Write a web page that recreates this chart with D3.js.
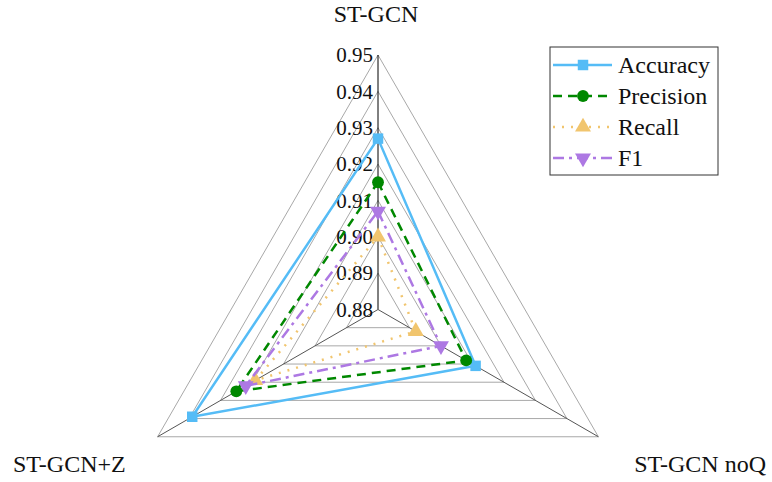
<!DOCTYPE html>
<html>
<head>
<meta charset="utf-8">
<script src="https://cdn.jsdelivr.net/npm/d3@7/dist/d3.min.js"></script>
<style>
  body { margin: 0; background: #fff; }
</style>
</head>
<body>
<div id="chart-area"></div>
<script>
// Data
let axesNames = ["ST-GCN", "ST-GCN noQ", "ST-GCN+Z"];
let seriesNames = ["Accuracy", "Precision", "Recall", "F1"];
let accuracy = [0.927, 0.911, 0.939];
let precision = [0.915, 0.908, 0.925];
let recall = [0.900, 0.892, 0.919];
let f1 = [0.907, 0.900, 0.922];
let tickValues = [0.88, 0.89, 0.90, 0.91, 0.92, 0.93, 0.94, 0.95];

let seriesValues = [accuracy, precision, recall, f1];
let colors = ["#55bcf6", "#008800", "#f1c56e", "#ad78e3"];
let dashes = [null, "9,6", "2,7", "11,5,3,5"];
let symbols = [d3.symbolSquare, d3.symbolCircle, d3.symbolTriangle, d3.symbolTriangle];
let symSizes = [110, 110, 110, 110];
let symRotate = [0, 0, 0, 180];

let serif = "'Liberation Serif', 'Times New Roman', Times, 'DejaVu Serif', serif";

// SVG container
let width = 772, height = 482;
let svg = d3
  .select("#chart-area")
  .append("svg")
  .attr("width", width)
  .attr("height", height)
  .attr("font-family", serif);

let cx = 378, cy = 309.5, R = 254.5;

// Scale
let r = d3.scaleLinear().domain([0.88, 0.95]).range([0, R]);

let angle = i => (-90 + i * 120) * Math.PI / 180;
let pt = (i, v) => [cx + r(v) * Math.cos(angle(i)), cy + r(v) * Math.sin(angle(i))];

// Grid rings
let g = svg.append("g");
g.selectAll(".ring")
  .data(tickValues.slice(1))
  .enter()
  .append("polygon")
  .attr("class", "ring")
  .attr("points", v => axesNames.map((a, i) => pt(i, v).join(",")).join(" "))
  .attr("fill", "none")
  .attr("stroke", "#a8a8a8")
  .attr("stroke-width", 1);

// Spokes
g.selectAll(".spoke")
  .data(axesNames)
  .enter()
  .append("line")
  .attr("class", "spoke")
  .attr("x1", cx)
  .attr("y1", cy)
  .attr("x2", (d, i) => pt(i, 0.95)[0])
  .attr("y2", (d, i) => pt(i, 0.95)[1])
  .attr("stroke", (d, i) => i == 0 ? "#000" : "#555")
  .attr("stroke-width", 1);

// Tick labels on the top axis
g.selectAll(".tick-label")
  .data(tickValues)
  .enter()
  .append("text")
  .attr("class", "tick-label")
  .attr("x", cx - 5)
  .attr("y", v => cy - r(v))
  .attr("dy", "0.35em")
  .attr("text-anchor", "end")
  .style("font-family", serif)
  .style("font-size", "21px")
  .style("fill", "#111")
  .text(d3.format(".2f"));

// Axis labels
let labelPos = [
  { x: 376, y: 22, anchor: "middle" },
  { x: 766, y: 472, anchor: "end" },
  { x: 13, y: 472, anchor: "start" }
];
svg.selectAll(".axis-label")
  .data(axesNames)
  .enter()
  .append("text")
  .attr("class", "axis-label")
  .attr("x", (d, i) => labelPos[i].x)
  .attr("y", (d, i) => labelPos[i].y)
  .attr("text-anchor", (d, i) => labelPos[i].anchor)
  .style("font-family", serif)
  .style("font-size", "24px")
  .style("fill", "#111")
  .text(d => d);

// Series
let line = d3.line().curve(d3.curveLinearClosed);
seriesValues.forEach((vals, s) => {
  let pts = vals.map((v, i) => pt(i, v));
  svg.append("path")
    .attr("d", line(pts))
    .attr("fill", "none")
    .attr("stroke", colors[s])
    .attr("stroke-width", 2.5)
    .attr("stroke-dasharray", dashes[s]);
  svg.selectAll(".m" + s)
    .data(pts)
    .enter()
    .append("path")
    .attr("class", "m" + s)
    .attr("d", d3.symbol().type(symbols[s]).size(symSizes[s]))
    .attr("transform", d => "translate(" + d[0] + "," + d[1] + ") rotate(" + symRotate[s] + ")")
    .attr("fill", colors[s]);
});

// Legend
let legend = svg.append("g").attr("transform", "translate(550,47)");
legend.append("rect")
  .attr("width", 168)
  .attr("height", 128)
  .attr("fill", "#fff")
  .attr("stroke", "#333")
  .attr("stroke-width", 1);
seriesNames.forEach((name, s) => {
  let y = 18 + s * 31;
  legend.append("line")
    .attr("x1", 3).attr("x2", 62)
    .attr("y1", y).attr("y2", y)
    .attr("stroke", colors[s])
    .attr("stroke-width", 2.5)
    .attr("stroke-dasharray", dashes[s]);
  legend.append("path")
    .attr("d", d3.symbol().type(symbols[s]).size(symSizes[s]))
    .attr("transform", "translate(33," + y + ") rotate(" + symRotate[s] + ")")
    .attr("fill", colors[s]);
  legend.append("text")
    .attr("x", 68)
    .attr("y", y)
    .attr("dy", "0.35em")
    .style("font-family", serif)
    .style("font-size", "24px")
    .style("fill", "#111")
    .text(name);
});
</script>
</body>
</html>
